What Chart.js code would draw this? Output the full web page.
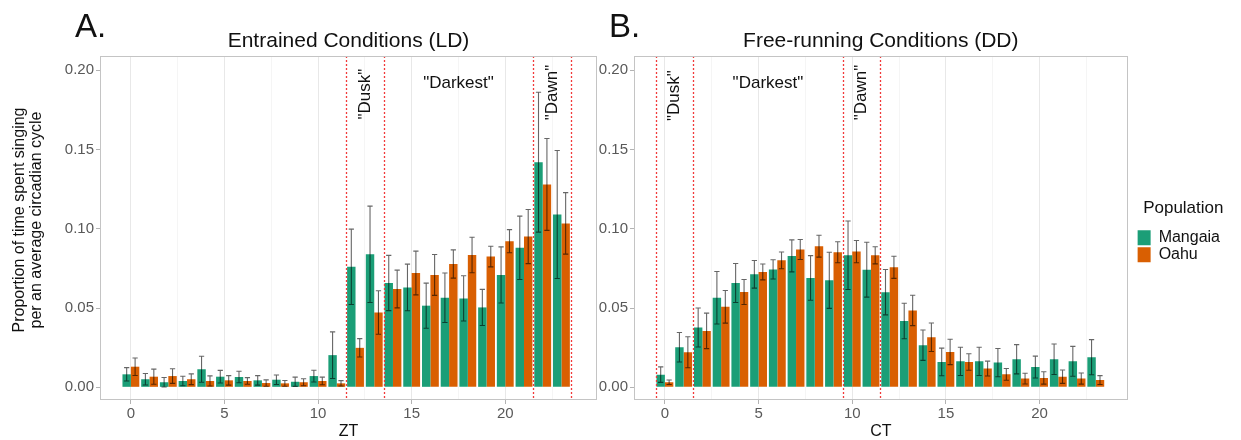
<!DOCTYPE html>
<html>
<head>
<meta charset="utf-8">
<script src="https://cdn.jsdelivr.net/npm/chart.js@4.4.1/dist/chart.umd.min.js"></script>
<style>
  body { margin: 0; background: #fff; width: 1241px; height: 440px; overflow: hidden; position: relative; }
  .panel { position: absolute; top: 0; }
</style>
</head>
<body>
<div class="panel" style="left:0px"><canvas id="chartA" width="610" height="440"></canvas></div>
<div class="panel" style="left:580px"><canvas id="chartB" width="661" height="440"></canvas></div>
<script>
const hours = [0,1,2,3,4,5,6,7,8,9,10,11,12,13,14,15,16,17,18,19,20,21,22,23];

// Entrained (LD), mean and standard error
const ldMangaia = [0.0082,0.0051,0.0032,0.0040,0.0114,0.0067,0.0065,0.0044,0.0048,0.0035,0.0071,0.0203,0.0760,0.0839,0.0658,0.0630,0.0515,0.0565,0.0561,0.0504,0.0709,0.0880,0.1420,0.1090];
const ldMangaiaSe = [0.0042,0.0036,0.0030,0.0030,0.0082,0.0040,0.0036,0.0030,0.0030,0.0029,0.0037,0.0147,0.0238,0.0304,0.0174,0.0147,0.0142,0.0156,0.0143,0.0114,0.0177,0.0200,0.0441,0.0404];
const ldOahu = [0.0130,0.0067,0.0071,0.0051,0.0040,0.0044,0.0040,0.0027,0.0025,0.0032,0.0040,0.0025,0.0249,0.0472,0.0620,0.0721,0.0709,0.0778,0.0835,0.0825,0.0922,0.0951,0.1280,0.1034];
const ldOahuSe = [0.0055,0.0048,0.0046,0.0034,0.0032,0.0030,0.0021,0.0020,0.0018,0.0022,0.0024,0.0017,0.0058,0.0137,0.0119,0.0138,0.0129,0.0089,0.0112,0.0065,0.0073,0.0171,0.0290,0.0194];

// Free-running (DD)
const ddMangaia = [0.0080,0.0253,0.0377,0.0565,0.0658,0.0713,0.0744,0.0829,0.0690,0.0675,0.0833,0.0742,0.0600,0.0418,0.0266,0.0160,0.0164,0.0164,0.0156,0.0177,0.0128,0.0177,0.0164,0.0190];
const ddMangaiaSe = [0.0049,0.0093,0.0123,0.0166,0.0123,0.0087,0.0061,0.0101,0.0141,0.0177,0.0216,0.0173,0.0143,0.0112,0.0096,0.0087,0.0089,0.0089,0.0089,0.0092,0.0069,0.0096,0.0094,0.0111];
const ddOahu = [0.0032,0.0221,0.0356,0.0508,0.0601,0.0728,0.0801,0.0869,0.0890,0.0852,0.0856,0.0833,0.0757,0.0485,0.0316,0.0223,0.0160,0.0118,0.0082,0.0055,0.0059,0.0067,0.0055,0.0046];
const ddOahuSe = [0.0014,0.0098,0.0112,0.0103,0.0079,0.0050,0.0053,0.0063,0.0069,0.0066,0.0070,0.0054,0.0070,0.0096,0.0090,0.0080,0.0052,0.0047,0.0037,0.0034,0.0039,0.0042,0.0035,0.0028];

const ldLines = [11.5, 13.5, 21.5, 23.5];
const ddLines = [-0.5, 1.5, 9.5, 11.5];
const ldNotes = [['"Dusk"', 12.5, 0.185, true], ['"Darkest"', 17.5, 0.192, false], ['"Dawn"', 22.5, 0.186, true]];
const ddNotes = [['"Dusk"', 0.5, 0.184, true], ['"Darkest"', 5.5, 0.192, false], ['"Dawn"', 10.5, 0.186, true]];

const xTicks = [0,2.5,5,7.5,10,12.5,15,17.5,20,22.5];
const yTicks = [0, 0.05, 0.10, 0.15, 0.20];
const populations = ['Mangaia', 'Oahu'];
const colors = ['#1b9e77', '#d95f02'];
const yTitle = ['Proportion of time spent singing', 'per an average circadian cycle'];

const FONT = '"Liberation Sans", Arial, sans-serif';

// error bars, red dotted lines, text notes and panel frame
const panelDecor = {
  id: 'panelDecor',
  afterDatasetsDraw(chart, args, opts) {
    const ctx = chart.ctx, x = chart.scales.x, y = chart.scales.y, area = chart.chartArea;
    const cap = x.getPixelForValue(0.14) - x.getPixelForValue(0);
    ctx.save();
    ctx.strokeStyle = 'rgba(0,0,0,0.6)';
    ctx.lineWidth = 1.1;
    chart.data.datasets.forEach((ds, di) => {
      chart.getDatasetMeta(di).data.forEach((bar, i) => {
        const lo = y.getPixelForValue(ds.data[i].y - ds.se[i]);
        const hi = y.getPixelForValue(ds.data[i].y + ds.se[i]);
        ctx.beginPath();
        ctx.moveTo(bar.x, lo); ctx.lineTo(bar.x, hi);
        ctx.moveTo(bar.x - cap, lo); ctx.lineTo(bar.x + cap, lo);
        ctx.moveTo(bar.x - cap, hi); ctx.lineTo(bar.x + cap, hi);
        ctx.stroke();
      });
    });
    ctx.strokeStyle = '#f23a3a';
    ctx.lineWidth = 1.3;
    ctx.setLineDash([2, 2]);
    opts.lines.forEach(v => {
      const px = Math.round(x.getPixelForValue(v)) + 0.5;
      ctx.beginPath(); ctx.moveTo(px, area.top); ctx.lineTo(px, area.bottom); ctx.stroke();
    });
    ctx.setLineDash([]);
    ctx.fillStyle = '#111';
    ctx.font = '17px ' + FONT;
    ctx.textAlign = 'center';
    ctx.textBaseline = 'middle';
    opts.notes.forEach(n => {
      const px = x.getPixelForValue(n[1]), py = y.getPixelForValue(n[2]);
      ctx.save();
      ctx.translate(px, py);
      if (n[3]) ctx.rotate(-Math.PI / 2);
      ctx.fillText(n[0], 0, 0);
      ctx.restore();
    });
    ctx.strokeStyle = '#c4c4c4';
    ctx.lineWidth = 1;
    ctx.strokeRect(Math.round(area.left) + 0.5, Math.round(area.top) + 0.5, Math.round(area.width) - 1, Math.round(area.height) - 1);
    ctx.restore();
  },
  afterDraw(chart, args, opts) {
    const ctx = chart.ctx, area = chart.chartArea;
    ctx.save();
    ctx.fillStyle = '#111';
    ctx.textBaseline = 'alphabetic';
    ctx.textAlign = 'center';
    ctx.font = '21px ' + FONT;
    ctx.fillText(opts.title, (area.left + area.right) / 2, 47);
    ctx.textAlign = 'left';
    ctx.font = '33px ' + FONT;
    ctx.fillText(opts.letter, opts.letterX, 37);
    if (opts.yTitle) {
      ctx.font = '16px ' + FONT;
      ctx.textAlign = 'center';
      ctx.textBaseline = 'middle';
      ctx.translate(20, 220);
      ctx.rotate(-Math.PI / 2);
      opts.yTitle.forEach((t, i) => ctx.fillText(t, 0, i * 17));
    }
    ctx.restore();
  },
  afterLayout(chart, args, opts) {
    if (chart.legend && opts.legendShift) {
      chart.legend.left += opts.legendShift;
      chart.legend.right += opts.legendShift;
    }
  }
};

function makePanel(id, m, mSe, o, oSe, setup) {
  const series = [[m, mSe], [o, oSe]];
  return new Chart(document.getElementById(id), {
    type: 'bar',
    data: {
      datasets: series.map((s, k) => ({
        label: populations[k],
        data: hours.map((h, i) => ({x: h, y: s[0][i]})),
        se: s[1],
        backgroundColor: colors[k],
        borderWidth: 0,
        categoryPercentage: 0.9,
        barPercentage: 1.0
      }))
    },
    options: {
      responsive: false,
      animation: false,
      layout: { padding: { top: 56, right: setup.padRight, left: 0, bottom: 0 } },
      scales: {
        x: {
          type: 'linear',
          min: -1.65,
          max: setup.xMax,
          offset: false,
          afterBuildTicks: s => { s.ticks = xTicks.map(v => ({value: v})); },
          afterFit: s => { s.height = 40; },
          border: { display: false },
          grid: {
            offset: false,
            color: c => c.tick && c.tick.value % 5 === 0 ? '#e8e8e8' : '#f2f2f2',
            lineWidth: c => c.tick && c.tick.value % 5 === 0 ? 1 : 0.8,
            tickColor: c => c.tick && c.tick.value % 5 === 0 ? '#b3b3b3' : 'rgba(0,0,0,0)',
            tickLength: 4
          },
          ticks: {
            autoSkip: false, maxRotation: 0, padding: 1,
            color: '#595959', font: { family: FONT, size: 15 },
            callback: v => v % 5 === 0 ? String(v) : ''
          },
          title: {
            display: true, text: setup.xTitle, color: '#111',
            font: { family: FONT, size: 16, lineHeight: 1 }, padding: { top: 0, bottom: 0 }
          }
        },
        y: {
          min: -0.008,
          max: 0.209,
          afterBuildTicks: s => { s.ticks = yTicks.map(v => ({value: v})); },
          afterFit: s => { s.width = setup.yWidth; },
          border: { display: false },
          grid: { drawOnChartArea: false, tickColor: '#b3b3b3', tickLength: 4 },
          ticks: {
            padding: 2, color: '#595959', font: { family: FONT, size: 15 },
            callback: v => v.toFixed(2)
          }
        }
      },
      plugins: {
        tooltip: { enabled: false },
        legend: {
          display: setup.legend,
          position: 'right',
          align: 'center',
          fullSize: false,
          title: {
            display: true, text: 'Population', color: '#111',
            font: { family: FONT, size: 17 }, padding: { top: 8, bottom: 8 }
          },
          labels: {
            boxWidth: 13, boxHeight: 15, padding: 1, color: '#111',
            font: { family: FONT, size: 16 }
          }
        },
        panelDecor: {
          lines: setup.lines, notes: setup.notes, title: setup.title, yTitle: setup.yTitle,
          letter: setup.letter, letterX: setup.letterX, legendShift: setup.legend ? 9 : 0
        }
      }
    },
    plugins: [panelDecor]
  });
}

makePanel('chartA', ldMangaia, ldMangaiaSe, ldOahu, ldOahuSe, {
  padRight: 13, xMax: 24.9, yWidth: 100, xTitle: 'ZT', yTitle: yTitle,
  legend: false, lines: ldLines, notes: ldNotes,
  title: 'Entrained Conditions (LD)', letter: 'A.', letterX: 75
});

makePanel('chartB', ddMangaia, ddMangaiaSe, ddOahu, ddOahuSe, {
  padRight: 20, xMax: 24.7, yWidth: 54, xTitle: 'CT', yTitle: null,
  legend: true, lines: ddLines, notes: ddNotes,
  title: 'Free-running Conditions (DD)', letter: 'B.', letterX: 29
});
</script>
</body>
</html>
